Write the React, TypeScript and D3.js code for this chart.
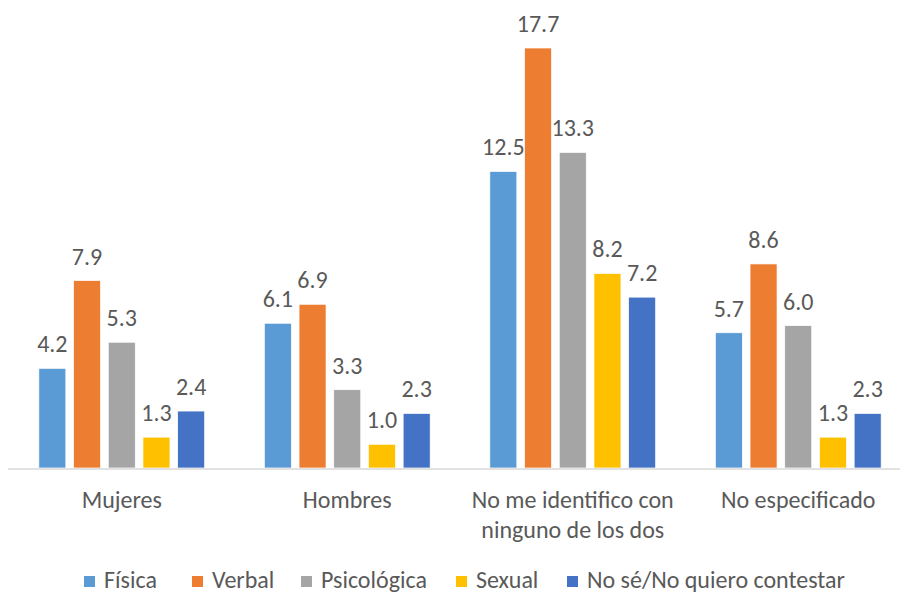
import React from "react";
import * as d3 from "d3";

const categories = ["Mujeres", "Hombres", "No me identifico con\nninguno de los dos", "No especificado"];
const seriesNames = ["Física", "Verbal", "Psicológica", "Sexual", "No sé/No quiero contestar"];
const fisica = [4.2, 6.1, 12.5, 5.7];
const verbal = [7.9, 6.9, 17.7, 8.6];
const psicologica = [5.3, 3.3, 13.3, 6.0];
const sexual = [1.3, 1.0, 8.2, 1.3];
const noSe = [2.4, 2.3, 7.2, 2.3];
const colors = ["#5B9BD5", "#ED7D31", "#A5A5A5", "#FFC000", "#4472C4"];

const W = 900;
const H = 595;
const FONT = "Calibri, Carlito, Lato, 'Open Sans', sans-serif";
const FS = 24;

export default function App() {
  const series = [fisica, verbal, psicologica, sexual, noSe];
  const x0 = d3.scaleBand<string>().domain(categories).range([9, 911]).paddingInner(0).paddingOuter(0);
  const x1 = d3
    .scaleBand<string>()
    .domain(seriesNames)
    .range([0, x0.bandwidth()])
    .paddingInner(0.222)
    .paddingOuter(0.86);
  const y = d3.scaleLinear().domain([0, 17.7]).range([468, 48]);

  const legendX = [84, 192, 301, 456, 567];

  return (
    <svg
      width={W}
      height={H}
      style={{ position: "absolute", left: 0, top: 0, display: "block", background: "#fff" }}
      fontFamily={FONT}
    >
      {categories.map((c, ci) => (
        <g key={c} transform={`translate(${x0(c)},0)`}>
          {series.map((vals, si) => {
            const xx = x1(seriesNames[si])!;
            const v = vals[ci];
            return (
              <g key={si}>
                <rect
                  x={xx}
                  y={y(v)}
                  width={x1.bandwidth()}
                  height={y(0) - y(v)}
                  fill={colors[si]}
                  stroke="#fff"
                  strokeWidth={0.7}
                />
                <text
                  x={xx + x1.bandwidth() / 2}
                  y={y(v) - 16}
                  textAnchor="middle"
                  fontSize={FS}
                  fill="#595959"
                >
                  {v.toFixed(1)}
                </text>
              </g>
            );
          })}
        </g>
      ))}
      <line x1={8} x2={W} y1={y(0) + 1} y2={y(0) + 1} stroke="#D9D9D9" strokeWidth={1.5} />
      {categories.map((c) => {
        const lines = c.split("\n");
        return (
          <text
            key={c}
            x={x0(c)! + x0.bandwidth() / 2}
            y={508}
            textAnchor="middle"
            fontSize={FS}
            fill="#595959"
          >
            {lines.map((l, i) => (
              <tspan key={i} x={x0(c)! + x0.bandwidth() / 2} dy={i === 0 ? 0 : 30}>
                {l}
              </tspan>
            ))}
          </text>
        );
      })}
      {seriesNames.map((name, i) => (
        <g key={name} transform={`translate(${legendX[i]},0)`}>
          <rect x={0} y={576} width={11} height={11} fill={colors[i]} />
          <text x={20} y={588} fontSize={FS} fill="#595959">
            {name}
          </text>
        </g>
      ))}
    </svg>
  );
}
